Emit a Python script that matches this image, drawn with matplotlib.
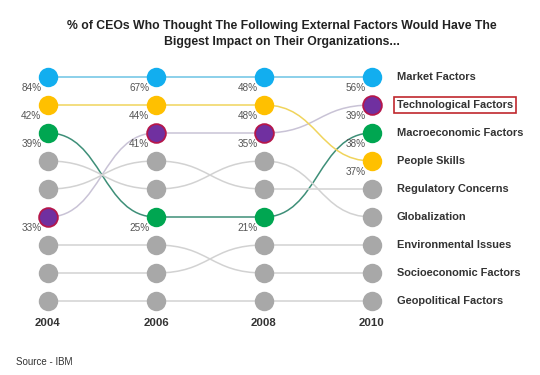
import numpy as np
import matplotlib
matplotlib.use("Agg")
import matplotlib.pyplot as plt
from matplotlib.path import Path
from matplotlib.patches import PathPatch

plt.rcParams['font.family'] = ['Liberation Sans', 'DejaVu Sans']

years = [2004, 2006, 2008, 2010]
factors = ["Market Factors", "Technological Factors", "Macroeconomic Factors",
           "People Skills", "Regulatory Concerns", "Globalization",
           "Environmental Issues", "Socioeconomic Factors", "Geopolitical Factors"]

# rank (row) of each factor in each survey year
ranks = {
    "Market Factors":        [1, 1, 1, 1],
    "Technological Factors": [6, 3, 3, 2],
    "Macroeconomic Factors": [3, 6, 6, 3],
    "People Skills":         [2, 2, 2, 4],
    "Regulatory Concerns":   [5, 4, 5, 5],
    "Globalization":         [4, 5, 4, 6],
    "Environmental Issues":  [8, 8, 7, 7],
    "Socioeconomic Factors": [7, 7, 8, 8],
    "Geopolitical Factors":  [9, 9, 9, 9],
}

# % of CEOs (only shown for highlighted factors)
pct = {
    "Market Factors":        [84, 67, 48, 56],
    "Technological Factors": [33, 41, 35, 39],
    "Macroeconomic Factors": [39, 25, 21, 38],
    "People Skills":         [42, 44, 48, 37],
}

dot_col = {"Market Factors": "#12AEEF", "Technological Factors": "#7030A0",
           "Macroeconomic Factors": "#00A651", "People Skills": "#FFC000"}
line_col = {"Market Factors": "#6CC4E4", "Technological Factors": "#C9C3D6",
            "Macroeconomic Factors": "#3E8F78", "People Skills": "#F0D45C"}
gray_dot = "#A8A8A8"
gray_line = "#D2D2D2"

fig = plt.figure(figsize=(5.4, 3.75), dpi=100)
ax = fig.add_axes([0, 0, 1, 1])
ax.set_xlim(2004 - 48 / 54, 2004 + 492 / 54)
ax.set_ylim(1 + 298 / 28, 1 - 77 / 28)
ax.axis("off")

for f in factors:
    r = ranks[f]
    lc = line_col.get(f, gray_line)
    for i in range(len(years) - 1):
        x0, x1 = years[i], years[i + 1]
        y0, y1 = r[i], r[i + 1]
        xm = (x0 + x1) / 2
        verts = [(x0, y0), (xm, y0), (xm, y1), (x1, y1)]
        codes = [Path.MOVETO, Path.CURVE4, Path.CURVE4, Path.CURVE4]
        ax.add_patch(PathPatch(Path(verts, codes), fc="none", ec=lc, lw=1.1, zorder=1))

for f in factors:
    r = ranks[f]
    if f == "Technological Factors":
        ax.plot(years, r, "o", ms=13.5, mfc=dot_col[f], mec="#B5174B", mew=1.3,
                ls="none", zorder=3)
    else:
        c = dot_col.get(f, gray_dot)
        ax.plot(years, r, "o", ms=14, mfc=c, mec=c, mew=0, ls="none", zorder=3)
    if f in pct:
        for x, y, p in zip(years, r, pct[f]):
            ax.annotate(f"{p}%", (x, y), xytext=(-12, -8), textcoords="offset points",
                        ha="center", va="center", fontsize=7.2, color="#555555")

for f in factors:
    kw = {}
    if f == "Technological Factors":
        kw["bbox"] = dict(boxstyle="square,pad=0.3", fc="none", ec="#C0272D", lw=1.2)
    ax.annotate(f, (years[-1], ranks[f][-1]), xytext=(18, 0), textcoords="offset points",
                ha="left", va="center", fontsize=7.9, fontweight="bold", color="#333333", **kw)

for x in years:
    ax.annotate(str(x), (x, 9), xytext=(0, -16), textcoords="offset points",
                ha="center", va="center", fontsize=8.2, fontweight="bold", color="#333333")

fig.text(0.522, 0.91, "% of CEOs Who Thought The Following External Factors Would Have The\n"
         "Biggest Impact on Their Organizations...", ha="center", va="center",
         fontsize=8.8, fontweight="bold", color="#222222", linespacing=1.5)
fig.text(0.03, 0.035, "Source - IBM", ha="left", va="center", fontsize=7, color="#333333")

fig.savefig("out.png", dpi=100)
